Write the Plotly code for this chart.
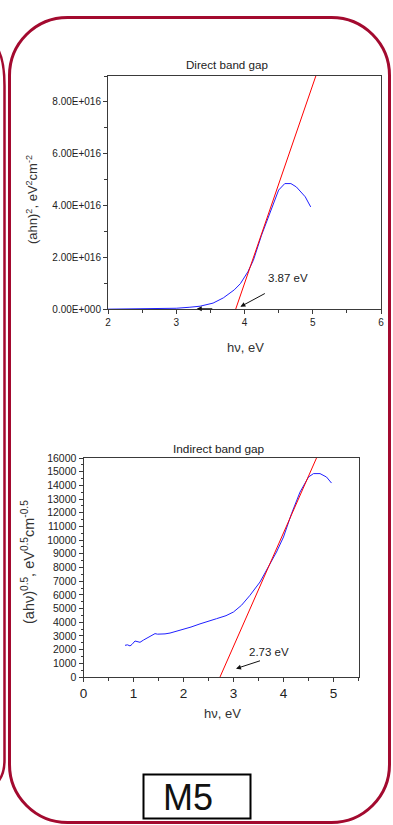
import plotly.graph_objects as go

# ---------------- data ----------------
direct_hv = [2.0, 2.5, 2.9, 3.0, 3.2, 3.35, 3.54, 3.69, 3.85, 3.94, 4.05, 4.13, 4.25, 4.35,
             4.50, 4.59, 4.68, 4.76, 4.89, 4.97]
direct_val = [0.005e16, 0.01e16, 0.02e16, 0.04e16, 0.08e16, 0.12e16, 0.24e16, 0.44e16, 0.75e16,
              0.99e16, 1.45e16, 1.89e16, 2.86e16, 3.56e16, 4.60e16, 4.85e16, 4.85e16, 4.72e16,
              4.34e16, 3.95e16]
direct_fit_hv = [3.87, 5.045]
direct_fit_val = [0.0, 9.0e16]
direct_yticks = [0, 2e16, 4e16, 6e16, 8e16]
direct_yticklabels = ["0.00E+000", "2.00E+016", "4.00E+016", "6.00E+016", "8.00E+016"]

indirect_hv = [0.83, 0.88, 0.93, 0.97, 1.03, 1.08, 1.13, 1.20, 1.30, 1.38, 1.43, 1.48, 1.53,
               1.63, 1.73, 1.85, 2.00, 2.15, 2.33, 2.50, 2.66, 2.85, 3.00, 3.16, 3.33, 3.53,
               3.70, 3.86, 4.00, 4.16, 4.33, 4.50, 4.60, 4.73, 4.86, 4.96]
indirect_val = [2316, 2350, 2270, 2380, 2630, 2560, 2535, 2700, 2920, 3080, 3170, 3130, 3120,
                3150, 3210, 3330, 3480, 3650, 3880, 4050, 4260, 4480, 4750, 5240, 5970, 6940,
                8040, 9130, 10230, 11930, 13510, 14610, 14860, 14860, 14610, 14170]
indirect_fit_hv = [2.73, 4.66]
indirect_fit_val = [0, 16000]

W, H = 393, 825
FONT = "Liberation Sans, Arial, sans-serif"
RED_FRAME = "#a30a2f"


def px(x):
    return x / W


def py(y):
    return 1 - y / H


def path_str(cmds):
    out = []
    for c in cmds:
        op = c[0]
        pts = c[1:]
        s = op
        for i in range(0, len(pts), 2):
            s += f" {px(pts[i]):.5f},{py(pts[i+1]):.5f}"
        out.append(s)
    return " ".join(out)


fig = go.Figure()

fig.add_trace(go.Scatter(x=direct_hv, y=direct_val, mode="lines",
                         line=dict(color="#1f1fff", width=1), xaxis="x", yaxis="y"))
fig.add_trace(go.Scatter(x=direct_fit_hv, y=direct_fit_val, mode="lines",
                         line=dict(color="#ff0000", width=1), xaxis="x", yaxis="y"))
fig.add_trace(go.Scatter(x=indirect_hv, y=indirect_val, mode="lines",
                         line=dict(color="#1f1fff", width=1), xaxis="x2", yaxis="y2"))
fig.add_trace(go.Scatter(x=indirect_fit_hv, y=indirect_fit_val, mode="lines",
                         line=dict(color="#ff0000", width=1), xaxis="x2", yaxis="y2"))

axcol = "#3a3a3a"
tickfont_small = dict(family=FONT, size=10, color="#222")
common = dict(showgrid=False, zeroline=False, showline=True, linecolor=axcol, linewidth=1,
              mirror=True, ticks="outside", ticklen=4, tickcolor=axcol, automargin=False)

fig.update_layout(
    width=W, height=H, margin=dict(l=0, r=0, t=0, b=0, pad=0, autoexpand=False),
    paper_bgcolor="white", plot_bgcolor="white", showlegend=False,
    xaxis=dict(domain=[px(108), px(381)], anchor="y", range=[2, 6], dtick=1, tick0=0,
               minor=dict(dtick=0.5, ticks="outside", ticklen=3, tickcolor=axcol),
               tickfont=dict(family=FONT, size=10, color="#222"), **common),
    yaxis=dict(domain=[py(309.3), py(76)], anchor="x", range=[0, 9e16],
               tickvals=direct_yticks, ticktext=direct_yticklabels,
               minor=dict(dtick=1e16, tick0=0, ticks="outside", ticklen=3, tickcolor=axcol),
               tickfont=tickfont_small, **common),
    xaxis2=dict(domain=[px(83.5), px(358.5)], anchor="y2", range=[0, 5.5], dtick=1, tick0=0,
                minor=dict(dtick=0.5, ticks="outside", ticklen=3, tickcolor=axcol),
                tickfont=dict(family=FONT, size=13.5, color="#222"), **common),
    yaxis2=dict(domain=[py(677), py(458)], anchor="x2", range=[0, 16000], dtick=1000, tick0=0,
                tickformat="d",
                minor=dict(dtick=500, ticks="outside", ticklen=2, tickcolor=axcol),
                tickfont=dict(family=FONT, size=10.5, color="#222"), **common),
)


def note(text, x, y, size, color="#222", xref="paper", yref="paper", angle=0):
    return dict(text=text, x=x, y=y, xref=xref, yref=yref, showarrow=False,
                xanchor="center", yanchor="middle", textangle=angle,
                font=dict(family=FONT, size=size, color=color))


ann = []
ann.append(note("Direct band gap", px(227), py(64), 11.6))
ann.append(note("Indirect band gap", px(219), py(449), 11.8))
ann.append(note("hν, eV", px(245), py(347), 13, "#333"))
ann.append(note("hν, eV", px(222), py(713), 13, "#333"))
ann.append(note("(ahn)<sup>2</sup>, eV<sup>2</sup>cm<sup>-2</sup>", px(32), py(200), 13, "#333",
                angle=-90))
ann.append(note("(ahν)<sup>0.5</sup>, eV<sup>0.5</sup>cm<sup>-0.5</sup>", px(28), py(562), 14.5,
                "#333", angle=-90))
ann.append(note("3.87 eV", 4.63, 1.2e16, 11.5, xref="x", yref="y"))
ann.append(note("2.73 eV", 3.70, 1830, 11.5, xref="x2", yref="y2"))
ann.append(dict(text="", x=3.94, y=0.1e16, ax=4.32, ay=0.64e16, xref="x", yref="y",
                axref="x", ayref="y", showarrow=True, arrowhead=2, arrowsize=1,
                arrowwidth=1, arrowcolor="#111"))
ann.append(dict(text="", x=3.30, y=0.02e16, ax=3.55, ay=0.02e16, xref="x", yref="y",
                axref="x", ayref="y", showarrow=True, arrowhead=2, arrowsize=1,
                arrowwidth=1, arrowcolor="#111"))
ann.append(dict(text="", x=3.05, y=610, ax=3.56, ay=1220, xref="x2", yref="y2",
                axref="x2", ayref="y2", showarrow=True, arrowhead=2, arrowsize=1,
                arrowwidth=1, arrowcolor="#111"))
ann.append(note("M5", px(188), py(797), 36, "#111"))
fig.update_layout(annotations=ann)

# frames
L, T, R, B, r = 9.5, 17.5, 389.5, 822.5, 58
k = 0.5523 * r
frame = path_str([
    ("M", L + r, T), ("L", R - r, T),
    ("C", R - r + k, T, R, T + r - k, R, T + r),
    ("L", R, B - r),
    ("C", R, B - r + k, R - r + k, B, R - r, B),
    ("L", L + r, B),
    ("C", L + r - k, B, L, B - r + k, L, B - r),
    ("L", L, T + r),
    ("C", L, T + r - k, L + r - k, T, L + r, T),
]) + " Z"
left_panel = path_str([
    ("M", -6, 44), ("Q", 4.5, 54, 4.5, 86), ("L", 4.5, 760), ("Q", 4.5, 776, -4, 784),
])
shapes = [
    dict(type="path", path=frame, xref="paper", yref="paper",
         line=dict(color=RED_FRAME, width=3)),
    dict(type="path", path=left_panel, xref="paper", yref="paper",
         line=dict(color=RED_FRAME, width=2.5)),
    dict(type="rect", x0=px(143.5), x1=px(250.5), y0=py(818.5), y1=py(774.5),
         xref="paper", yref="paper", line=dict(color="#000", width=2)),
]
fig.update_layout(shapes=shapes)

fig.write_html("out.html")
